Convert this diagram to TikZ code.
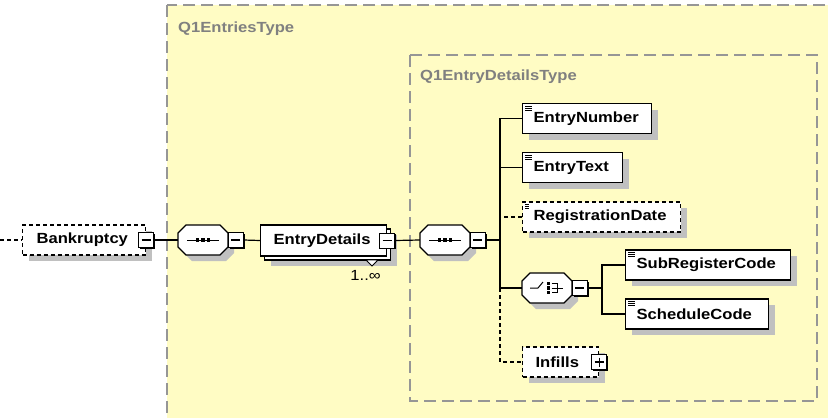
\documentclass[tikz,border=0pt]{standalone}
\usepackage{fontspec}
\usetikzlibrary{shadows,calc}
\newfontfamily\lsans[FakeStretch=1.13]{Liberation Sans}
\definecolor{bgyellow}{RGB}{255,252,196}
\definecolor{framegray}{RGB}{150,150,150}
\definecolor{labelgray}{RGB}{128,128,128}
\definecolor{shadowgray}{RGB}{192,192,192}
\newcommand\efont{\lsans\bfseries\fontsize{14.7}{17}\selectfont}
\newcommand\rfont{\lsans\fontsize{14.7}{17}\selectfont}
\tikzset{
  conn/.style={draw=black, line width=1.2pt},
  dconn/.style={conn, dash pattern=on 4pt off 3pt},
  frame/.style={draw=framegray, line width=1.5pt, dash pattern=on 12pt off 6pt},
  typelabel/.style={text=labelgray, font=\efont, inner sep=0pt, anchor=base west},
  shad/.style={drop shadow={opacity=1, fill=shadowgray, shadow xshift=6pt, shadow yshift=-6pt}},
  elembase/.style={draw=black, line width=1.2pt, fill=white, font=\efont, minimum height=30pt,
    inner ysep=0pt, inner xsep=11pt, align=left, anchor=west,
    execute at begin node={\hyphenpenalty=10000 }},
  elem/.style={elembase, shad},
  opt/.style={dash pattern=on 4pt off 3pt},
  simple/.style={path picture={
    \foreach \d in {2.5,4.5,6.5}{\draw[line width=1pt] ([xshift=2.5pt,yshift=-\d pt]path picture bounding box.north west) -- ++(6.5pt,0pt);}}},
  toggle/.style={draw=black, line width=1pt, fill=white, minimum size=15pt, inner sep=0pt,
    drop shadow={opacity=1, fill=black, shadow xshift=1.3pt, shadow yshift=-1.3pt}},
  minus/.style={toggle, path picture={
    \draw[line width=1.1pt] ([xshift=3pt]path picture bounding box.west) -- ([xshift=-3pt]path picture bounding box.east);}},
  plus/.style={toggle, path picture={
    \draw[line width=1.1pt] ([xshift=3pt]path picture bounding box.west) -- ([xshift=-3pt]path picture bounding box.east);
    \draw[line width=1.1pt] ([yshift=-3pt]path picture bounding box.north) -- ([yshift=3pt]path picture bounding box.south);}},
  compo/.style={minimum width=50pt, minimum height=30pt, inner sep=0pt},
}
\newcommand\octagon[1]{%
  \begin{scope}[shift={(#1.center)}]
    \fill[shadowgray, shift={(6,6)}] (-17,-15) -- (17,-15) -- (25,-7) -- (25,7) -- (17,15) -- (-17,15) -- (-25,7) -- (-25,-7) -- cycle;
    \draw[black, line width=1.2pt, fill=white] (-17,-15) -- (17,-15) -- (25,-7) -- (25,7) -- (17,15) -- (-17,15) -- (-25,7) -- (-25,-7) -- cycle;
  \end{scope}}
\newcommand\seqicon[1]{%
  \begin{scope}[shift={(#1.center)}]
    \draw[line width=1pt] (-16,0) -- (16,0);
    \foreach \c in {-5.5,0,5.5}{\fill (\c-1.8,-1.8) rectangle (\c+1.8,1.8);}
  \end{scope}}
\newcommand\choiceicon[1]{%
  \begin{scope}[shift={(#1.center)}]
    \draw[line width=1pt] (-17,0) -- (-9,0) -- (-4,-6);
    \foreach \c in {-4.5,0,4.5}{\fill (-0.5,\c-1.6) rectangle (2.7,\c+1.6);}
    \draw[line width=1pt] (4.5,-4.5) -- (10,-4.5) -- (10,4.5) -- (4.5,4.5);
    \draw[line width=1pt] (4.5,0) -- (16,0);
  \end{scope}}
\begin{document}
\begin{tikzpicture}[x=1pt, y=-1pt]
\useasboundingbox (0,0) rectangle (828,418);
\clip (0,0) rectangle (828,418);
% frames
\fill[bgyellow] (167,5) rectangle (845,430);
\draw[frame] (167,5) rectangle (845,430);
\draw[frame] (410,55) rectangle (817,401);
\node[typelabel] (t1) at (178,32) {Q1EntriesType};
\node[typelabel] (t2) at (420,80) {Q1EntryDetailsType};
% root element
\node[elem, opt, inner xsep=14pt, text width=95pt] (bk) at (22,240) {Bankruptcy};
\node[minus] (bkm) at (bk.east) {};
% sequence 1
\node[compo] (s1) at (203,240) {};
\octagon{s1}\seqicon{s1}
\node[minus, anchor=west] (s1m) at ([xshift=-0.5pt]s1.east) {};
% EntryDetails (1..inf)
\node[draw=black, line width=1.2pt, fill=white, shad, minimum width=126pt, minimum height=31pt, anchor=west] (edb) at (264,244.5) {};
\node[elembase, inner xsep=13pt, text width=100pt, minimum height=31pt] (ed) at (260,240.5) {EntryDetails};
\node[minus] (edm) at (ed.east) {};
\draw[black, line width=0.9pt, fill=white] (366,260) -- (372,266) -- (378,260) -- cycle;
\node[font=\rfont, anchor=base east, inner sep=0pt] (occ) at (381,280) {1..∞};
% sequence 2
\node[compo] (s2) at (445,240) {};
\octagon{s2}\seqicon{s2}
\node[minus, anchor=west] (s2m) at ([xshift=-0.5pt]s2.east) {};
% children
\node[elem, simple, text width=107pt] (en) at (522,118.5) {EntryNumber};
\node[elem, simple, text width=78pt] (et) at (522,167.5) {EntryText};
\node[elem, simple, opt, text width=136pt] (rd) at (522,217) {RegistrationDate};
\node[compo] (ch) at (547,288) {};
\octagon{ch}\choiceicon{ch}
\node[minus, anchor=west] (chm) at ([xshift=-0.5pt]ch.east) {};
\node[elem, simple, text width=143pt] (src) at (625,265) {SubRegisterCode};
\node[elem, simple, text width=121pt] (sc) at (625,314) {ScheduleCode};
\node[elem, opt, inner xsep=13pt, text width=50pt] (inf) at (522,362) {Infills};
\node[plus] (infp) at (inf.east) {};
% connectors
\coordinate (in) at (0,240);
\coordinate (sp) at (500,240);
\coordinate (cs) at (602,288);
\draw[dconn] (in) -- (bk.west);
\draw[conn] (bkm.east) -- (s1.west);
\draw[conn] (s1m.east) -- (ed.west);
\draw[conn] (edm.east) -- (s2.west);
\draw[conn] (s2m.east) -- (sp);
\draw[conn] (sp) |- (en.west);
\draw[conn] (sp) |- (et.west);
\draw[dconn] (rd.west) -- (rd.west -| sp);
\draw[conn] (sp) |- (ch.west);
\draw[dconn] (sp |- ch.west) |- (inf.west);
\draw[conn] (chm.east) -- (cs);
\draw[conn] (cs) |- (src.west);
\draw[conn] (cs) |- (sc.west);
\end{tikzpicture}
\end{document}
